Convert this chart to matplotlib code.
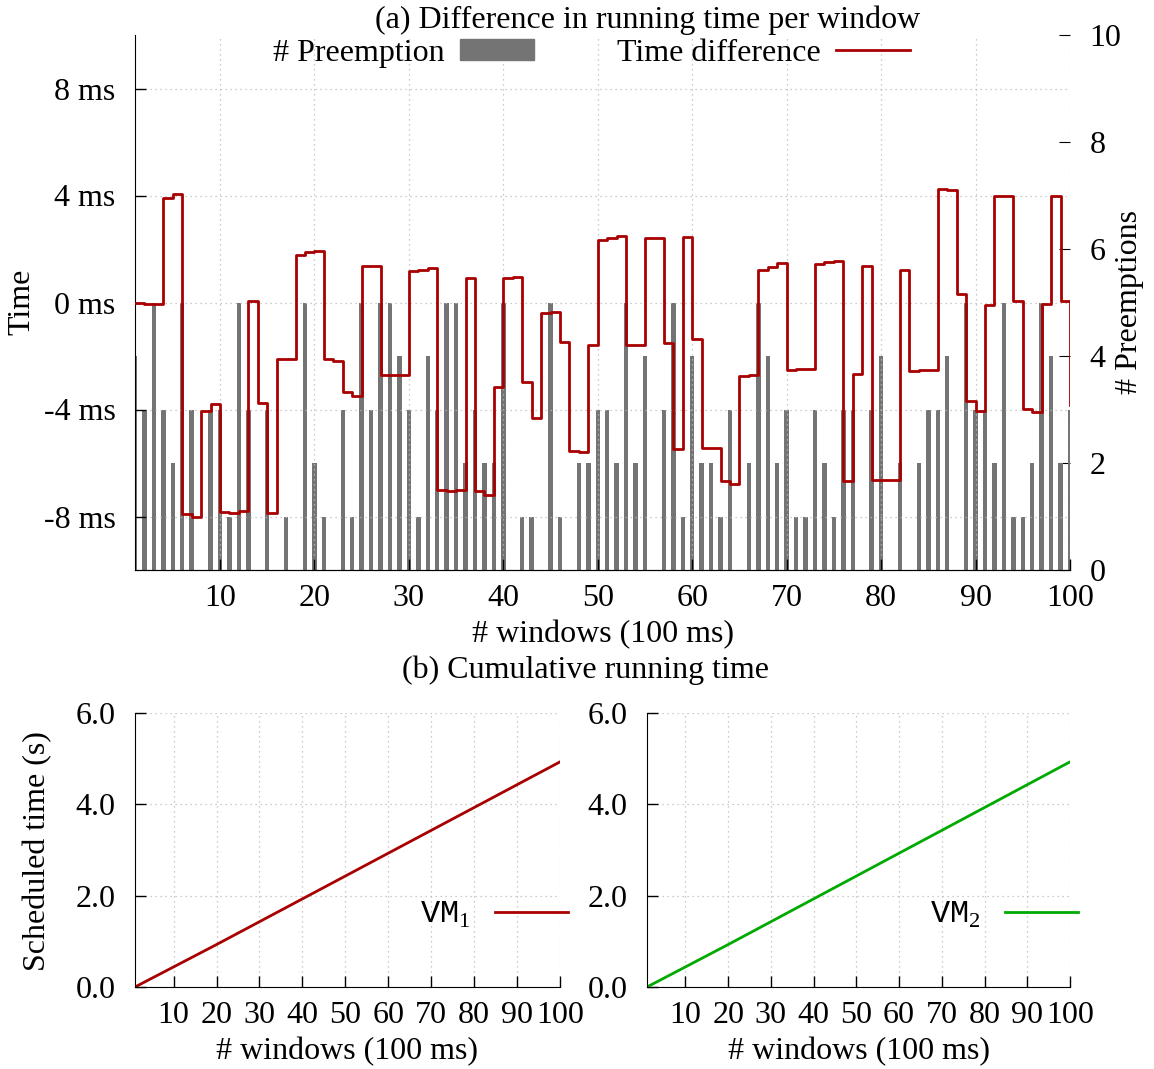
import matplotlib.pyplot as plt
from matplotlib.patches import Patch
from matplotlib.lines import Line2D
import numpy as np

plt.rcParams['font.family'] = ['Liberation Serif', 'DejaVu Serif']
plt.rcParams['font.size'] = 23
plt.rcParams['mathtext.fontset'] = 'custom'
plt.rcParams['mathtext.rm'] = 'Liberation Serif'
plt.rcParams['mathtext.tt'] = 'Liberation Mono'

# (a) per window data, windows 1..100
windows = np.arange(1, 101)
preemptions = [4, 3, 5, 3, 2, 5, 3, 0, 3, 3,
               1, 5, 3, 0, 3, 0, 1, 0, 5, 2,
               1, 0, 3, 1, 5, 3, 5, 5, 4, 3,
               1, 4, 3, 5, 5, 2, 3, 2, 2, 5,
               0, 1, 1, 0, 5, 1, 0, 2, 2, 3,
               3, 2, 5, 2, 4, 0, 3, 5, 1, 4,
               2, 2, 1, 3, 0, 2, 5, 4, 2, 3,
               1, 1, 3, 2, 1, 3, 3, 0, 3, 4,
               0, 2, 0, 2, 3, 3, 4, 0, 5, 3,
               3, 2, 5, 1, 1, 2, 5, 4, 2, 3]
time_diff_ms = [0.0, -0.05, -0.05, 3.91, 4.04, -7.90, -8.02, -4.04, -3.81, -7.84,
                -7.86, -7.81, 0.07, -3.76, -7.86, -2.13, -2.13, 1.79, 1.87, 1.94,
                -2.13, -2.17, -3.35, -3.49, 1.35, 1.38, -2.70, -2.70, -2.70, 1.17,
                1.23, 1.28, -7.00, -7.03, -7.00, 0.91, -7.05, -7.18, -3.17, 0.92,
                0.95, -2.98, -4.31, -0.39, -0.34, -1.48, -5.56, -5.58, -1.58, 2.34,
                2.40, 2.48, -1.58, -1.58, 2.42, 2.40, -1.51, -5.47, 2.44, -1.38,
                -5.45, -5.45, -6.69, -6.80, -2.75, -2.72, 1.23, 1.32, 1.47, -2.54,
                -2.50, -2.47, 1.45, 1.51, 1.57, -6.68, -2.69, 1.37, -6.62, -6.65,
                -6.65, 1.23, -2.57, -2.54, -2.54, 4.25, 4.21, 0.30, -3.70, -4.06,
                -0.09, 4.00, 4.00, 0.05, -3.97, -4.10, -0.07, 3.98, 0.07, -3.85]

# (b) cumulative running time (s)
cum_windows = [1, 10, 20, 30, 40, 50, 60, 70, 80, 90, 100]
vm1_cum_s = [0.0, 0.44, 0.93, 1.43, 1.93, 2.43, 2.93, 3.43, 3.93, 4.43, 4.93]
vm2_cum_s = [0.0, 0.44, 0.93, 1.43, 1.93, 2.43, 2.93, 3.43, 3.93, 4.43, 4.93]

xticks = list(range(10, 101, 10))
bar_color = '#747474'
red = '#a80000'
green = '#00aa00'
grid_kw = dict(color='#bbbbbb', linestyle=(0, (1, 3)), linewidth=0.9)

W, H = 1154, 1069
fig = plt.figure(figsize=(W / 100, H / 100), dpi=100)


def style(ax):
    ax.spines['top'].set_visible(False)
    ax.spines['right'].set_visible(False)
    ax.tick_params(direction='in', length=8, width=1)
    ax.grid(True, **grid_kw)


# ---- (a) ----
ax = fig.add_axes([135 / W, 1 - 570 / H, 935 / W, 535 / H])
ax2 = ax.twinx()
ax2.bar(windows, preemptions, width=0.47, color=bar_color, zorder=2)
ax2.set_ylim(0, 10)
ax2.set_yticks([0, 2, 4, 6, 8, 10])
ax2.tick_params(direction='in', length=8, pad=14)
for s in ['top', 'left', 'right']:
    ax2.spines[s].set_visible(False)

ax.set_zorder(ax2.get_zorder() + 1)
ax.patch.set_visible(False)
ax.step(windows, time_diff_ms, where='post', color=red, lw=2, zorder=3)
ax.set_xlim(1, 100)
ax.set_ylim(-10, 10)
ax.set_xticks(xticks)
ax.set_yticks([-8, -4, 0, 4, 8])
ax.set_yticklabels(['-8 ms', '-4 ms', '0 ms', '4 ms', '8 ms'])
style(ax)
ax.tick_params(axis='y', pad=14)
ax.tick_params(axis='x', pad=10)
ax.set_xlabel('# windows (100 ms)', labelpad=5)

handles = [Patch(color=bar_color), Line2D([], [], color=red, lw=2)]
ax.legend(handles, ['# Preemption', 'Time difference'], ncol=2, loc='center',
          bbox_to_anchor=(0.488, 0.966), frameon=False, markerfirst=False,
          handlelength=2.3, handleheight=0.62, handletextpad=0.5,
          columnspacing=2.6, borderpad=0, borderaxespad=0)

fig.text(648 / W, 1 - 20 / H, '(a) Difference in running time per window',
         ha='center', va='center')
fig.text(22 / W, 1 - 302 / H, 'Time', rotation=90, ha='center', va='center')
fig.text(1130 / W, 1 - 302 / H, '# Preemptions', rotation=90, ha='center', va='center')

# ---- (b) ----
fig.text(586 / W, 1 - 670 / H, '(b) Cumulative running time', ha='center', va='center')
fig.text(38 / W, 1 - 851 / H, 'Scheduled time (s)', rotation=90, ha='center', va='center')

panels = [(135, 425, vm1_cum_s, red, r'$\mathtt{VM}_1$'),
          (647, 423, vm2_cum_s, green, r'$\mathtt{VM}_2$')]
for left, width, cum, col, lab in panels:
    bx = fig.add_axes([left / W, 1 - 987 / H, width / W, 274 / H])
    bx.plot(cum_windows, cum, color=col, lw=2, label=lab)
    bx.set_xlim(1, 100)
    bx.set_ylim(0, 6)
    bx.set_xticks(xticks)
    bx.set_yticks([0, 2, 4, 6])
    bx.set_yticklabels(['0.0', '2.0', '4.0', '6.0'])
    style(bx)
    bx.tick_params(axis='y', pad=14)
    bx.tick_params(axis='x', pad=10)
    bx.set_xlabel('# windows (100 ms)', labelpad=5)
    leg_x = 1 + 8 / width
    bx.legend(loc='center right', bbox_to_anchor=(leg_x, 72 / 274), frameon=False,
              markerfirst=False, handlelength=2.3, handletextpad=0.75,
              borderpad=0, borderaxespad=0)

fig.savefig('out.png', dpi=100)
